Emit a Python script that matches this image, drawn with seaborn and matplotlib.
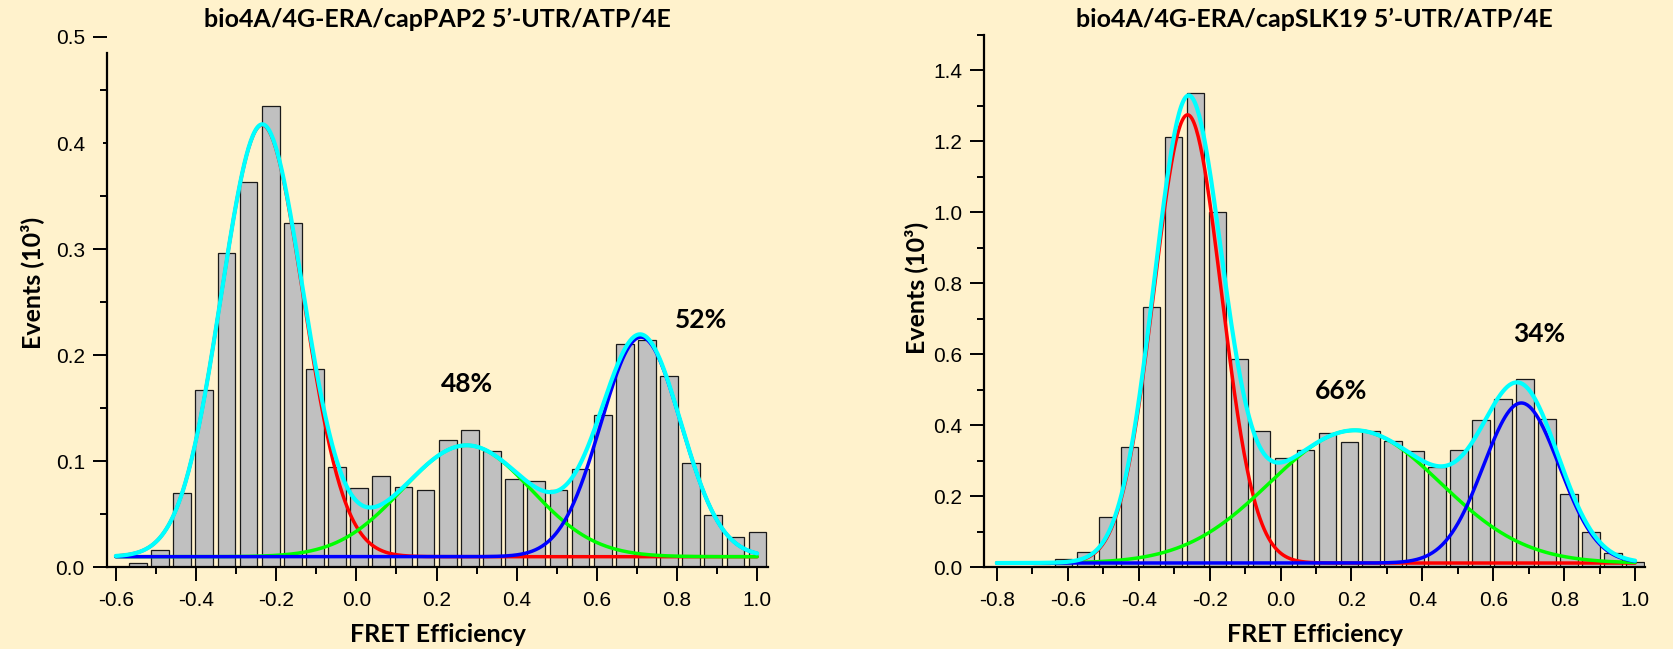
import numpy as np
import pandas as pd
import matplotlib
matplotlib.use("Agg")
import matplotlib.pyplot as plt
from matplotlib.ticker import MultipleLocator, FormatStrFormatter
import seaborn as sns

# ---------------- data ----------------
left_title = "bio4A/4G-ERA/capPAP2 5\u2019-UTR/ATP/4E"
right_title = "bio4A/4G-ERA/capSLK19 5\u2019-UTR/ATP/4E"
x_label = "FRET Efficiency"
y_label = "Events (10\u00b3)"

left_bin_centers = [-0.545, -0.490, -0.435, -0.380, -0.324, -0.269, -0.214, -0.159,
                    -0.103, -0.048, 0.007, 0.062, 0.117, 0.173, 0.228, 0.283, 0.338,
                    0.393, 0.449, 0.504, 0.559, 0.614, 0.670, 0.725, 0.780, 0.835,
                    0.890, 0.946, 1.001]
left_counts = [0.004, 0.016, 0.070, 0.167, 0.296, 0.363, 0.435, 0.325, 0.187, 0.095,
               0.075, 0.086, 0.076, 0.073, 0.120, 0.129, 0.110, 0.083, 0.081, 0.073,
               0.093, 0.144, 0.211, 0.214, 0.180, 0.098, 0.049, 0.029, 0.033]

right_bin_centers = [-0.674, -0.612, -0.550, -0.488, -0.426, -0.364, -0.302, -0.240,
                     -0.178, -0.116, -0.054, 0.008, 0.070, 0.132, 0.194, 0.256, 0.318,
                     0.380, 0.442, 0.504, 0.566, 0.628, 0.690, 0.752, 0.814, 0.876,
                     0.938, 1.000]
right_counts = [0.003, 0.023, 0.044, 0.143, 0.338, 0.734, 1.212, 1.336, 1.001, 0.586,
                0.385, 0.309, 0.331, 0.378, 0.354, 0.384, 0.356, 0.328, 0.284, 0.330,
                0.414, 0.475, 0.531, 0.418, 0.207, 0.100, 0.041, 0.014]

# Gaussian fit parameters: (center, sigma, amplitude); baseline y0
left_y0 = 0.010
left_fit_red = (-0.235, 0.102, 0.407)
left_fit_green = (0.275, 0.160, 0.105)
left_fit_blue = (0.710, 0.100, 0.207)
left_fit_range = (-0.6, 1.0)

right_y0 = 0.012
right_fit_red = (-0.262, 0.095, 1.263)
right_fit_green = (0.210, 0.240, 0.374)
right_fit_blue = (0.679, 0.107, 0.451)
right_fit_range = (-0.8, 1.0)

left_pct_labels = ["48%", "52%"]
left_pct_pos = [(0.277, 0.173), (0.861, 0.233)]
right_pct_labels = ["66%", "34%"]
right_pct_pos = [(0.171, 0.497), (0.728, 0.657)]

# ---------------- style ----------------
BG = "#FFF2CC"
sns.set_theme(style="ticks")
plt.rcParams["font.family"] = ["Liberation Sans", "DejaVu Sans"]
BOLD = ["Lato", "DejaVu Sans"]

fig = plt.figure(figsize=(16.73, 6.49), dpi=100, facecolor=BG)
ax_l = fig.add_axes([0.06396, 0.1259, 0.3951, 0.8171])
ax_r = fig.add_axes([0.5884, 0.1259, 0.3949, 0.8202])


def gauss(x, c, s, a):
    return a * np.exp(-((x - c) ** 2) / (2 * s ** 2))


def draw_panel(ax, centers, counts, y0, red, green, blue, frange, title,
               pct_labels, pct_pos, xlim, ylim, ymajor, yminor, spine_top,
               ylab_x, ylab_y, title_y):
    ax.set_facecolor(BG)
    centers = np.asarray(centers, dtype=float)
    step = float(np.diff(centers).mean())
    df = pd.DataFrame({"x": centers, "w": counts})
    sns.histplot(data=df, x="x", weights="w", binwidth=step,
                 binrange=(centers[0] - step / 2, centers[-1] + step / 2),
                 shrink=0.8, ax=ax, color="#C0C0C0", alpha=1.0,
                 edgecolor="#1a1a1a", linewidth=0.9)
    xs = np.linspace(frange[0], frange[1], 600)
    yr = y0 + gauss(xs, *red)
    yg = y0 + gauss(xs, *green)
    yb = y0 + gauss(xs, *blue)
    yt = y0 + gauss(xs, *red) + gauss(xs, *green) + gauss(xs, *blue)
    sns.lineplot(x=xs, y=yr, color="#FF0000", linewidth=2.5, ax=ax)
    sns.lineplot(x=xs, y=yg, color="#00FF00", linewidth=2.5, ax=ax)
    sns.lineplot(x=xs, y=yb, color="#0000FF", linewidth=2.5, ax=ax)
    sns.lineplot(x=xs, y=yt, color="#00FFFF", linewidth=3.0, ax=ax)

    ax.set_xlim(*xlim)
    ax.set_ylim(*ylim)
    ax.xaxis.set_major_locator(MultipleLocator(0.2))
    ax.xaxis.set_minor_locator(MultipleLocator(0.1))
    ax.yaxis.set_major_locator(MultipleLocator(ymajor))
    ax.yaxis.set_minor_locator(MultipleLocator(yminor))
    ax.xaxis.set_major_formatter(FormatStrFormatter("%.1f"))
    ax.yaxis.set_major_formatter(FormatStrFormatter("%.1f"))
    ax.tick_params(axis="both", which="major", direction="out", length=10,
                   width=1.4, labelsize=15, color="black", labelcolor="black")
    ax.tick_params(axis="both", which="minor", direction="out", length=5,
                   width=1.4, color="black")
    ax.tick_params(axis="x", which="major", pad=7)
    ax.tick_params(axis="y", which="major", pad=6)
    for s in ["top", "right"]:
        ax.spines[s].set_visible(False)
    for s in ["left", "bottom"]:
        ax.spines[s].set_color("black")
        ax.spines[s].set_linewidth(1.6)
    ax.spines["left"].set_bounds(0, spine_top)

    ax.set_xlabel(x_label, fontsize=18, fontweight="bold", family=BOLD, color="black")
    ax.xaxis.set_label_coords(0.5, -0.127)
    ax.xaxis.label.set_va("center")
    ax.set_ylabel(y_label, fontsize=18, fontweight="bold", family=BOLD, color="black")
    ax.yaxis.set_label_coords(ylab_x, ylab_y)
    ax.yaxis.label.set_va("center")
    ax.text(0.5, title_y, title, transform=ax.transAxes, ha="center", va="center",
            fontsize=18, fontweight="bold", family=BOLD, color="black")
    for lab, (px, py) in zip(pct_labels, pct_pos):
        ax.text(px, py, lab, ha="center", va="center", fontsize=19,
                fontweight="bold", family=BOLD, color="black")


draw_panel(ax_l, left_bin_centers, left_counts, left_y0, left_fit_red,
           left_fit_green, left_fit_blue, left_fit_range, left_title,
           left_pct_labels, left_pct_pos, (-0.622, 1.027), (0, 0.5), 0.1, 0.05,
           0.485, -0.113, 0.536, 1.034)
draw_panel(ax_r, right_bin_centers, right_counts, right_y0, right_fit_red,
           right_fit_green, right_fit_blue, right_fit_range, right_title,
           right_pct_labels, right_pct_pos, (-0.835, 1.028), (0, 1.5), 0.2, 0.1,
           1.5, -0.1035, 0.525, 1.030)

# the detached 0.5 tick of the left panel is short in the reference
for t in ax_l.yaxis.get_major_ticks():
    if abs(t.get_loc() - 0.5) < 1e-9:
        t.tick1line.set_markersize(3)

fig.savefig("out.png", dpi=100, facecolor=BG)
